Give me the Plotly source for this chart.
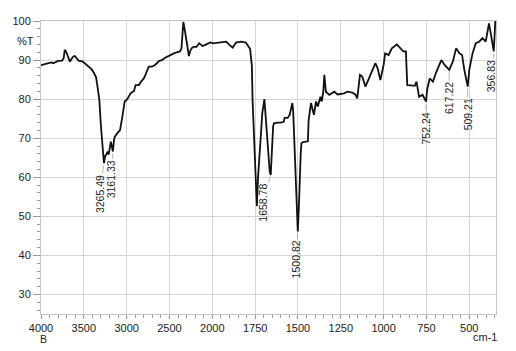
import numpy as np
import plotly.graph_objects as go

# ---- data (wavenumber cm-1, %T) ----
wavenumber = [4000, 3950, 3916, 3880, 3858, 3830, 3800, 3754, 3735, 3723, 3708, 3692, 3662, 3640,
              3623, 3605, 3585, 3561, 3512, 3490, 3454, 3430, 3408, 3385, 3357, 3339, 3319, 3300,
              3281, 3265, 3250, 3240, 3223, 3210, 3185, 3161, 3148, 3138, 3108, 3077, 3050, 3023,
              2993, 2954, 2930, 2915, 2896, 2858, 2831, 2800, 2781, 2760, 2742, 2704, 2665, 2620,
              2589, 2550, 2492, 2450, 2415, 2377, 2360, 2345, 2338, 2320, 2300, 2285, 2273, 2260,
              2242, 2220, 2185, 2170, 2154, 2130, 2115, 2081, 2050, 2023, 1996, 1957, 1919, 1900,
              1881, 1862, 1846, 1833, 1804, 1788, 1779, 1775, 1769, 1765, 1759, 1750, 1740, 1733,
              1722, 1708, 1696, 1688, 1678, 1665, 1659, 1654, 1650, 1645, 1640, 1620, 1600, 1583,
              1578, 1560, 1548, 1540, 1533, 1528, 1520, 1510, 1501, 1495, 1490, 1484, 1480, 1470,
              1455, 1442, 1438, 1432, 1424, 1407, 1394, 1384, 1369, 1361, 1352, 1346, 1340, 1337,
              1317, 1288, 1269, 1231, 1211, 1183, 1165, 1154, 1138, 1125, 1106, 1087, 1067, 1048,
              1035, 1019, 1000, 991, 971, 952, 923, 904, 885, 870, 865, 862, 840, 818, 808, 793,
              773, 752, 746, 731, 712, 692, 663, 644, 617, 596, 577, 557, 542, 529, 509, 500, 481,
              462, 442, 423, 404, 385, 375, 357, 348]
transmittance = [88.7, 89.0, 89.2, 89.4, 89.2, 89.6, 89.8, 89.85, 90.5, 92.6, 92.2, 91.3, 89.6, 90.4,
                 90.9, 91.05, 90.5, 89.85, 89.6, 89.2, 88.3, 88.0, 87.6, 86.8, 85.6, 83.0, 79.8, 73.0,
                 67.9, 63.6, 65.5, 65.7, 66.6, 65.8, 69.1, 66.6, 69.5, 70.4, 71.3, 72.1, 75.5, 79.4,
                 80.0, 81.5, 81.9, 82.0, 83.6, 83.6, 84.5, 85.3, 86.2, 87.5, 88.3, 88.3, 88.8, 89.8,
                 90.0, 90.6, 91.3, 91.7, 92.0, 92.2, 93.0, 97.5, 99.8, 97.5, 95.1, 92.5, 91.0, 92.2,
                 93.0, 93.4, 93.4, 93.8, 94.3, 93.9, 93.6, 93.9, 94.2, 94.5, 94.3, 94.5, 94.7, 93.9,
                 93.2, 94.5, 94.7, 94.7, 94.5, 93.4, 92.8, 90.9, 88.5, 79.8, 72.0, 62.0, 52.6, 60.0,
                 68.0, 76.5, 80.0, 75.0, 68.0, 61.5, 60.6, 65.0, 69.6, 73.0, 73.8, 74.0, 74.0, 74.2,
                 75.2, 75.2, 76.0, 77.5, 79.0, 77.0, 68.0, 55.0, 46.1, 52.0, 60.0, 66.0, 68.7, 69.0,
                 69.1, 69.2, 74.5, 77.0, 79.0, 76.0, 79.4, 78.1, 80.6, 79.4, 82.0, 86.2, 83.0, 81.9,
                 81.1, 81.9, 81.2, 81.5, 81.9, 81.7, 81.2, 80.2, 86.2, 85.8, 83.2, 85.3, 87.0, 89.2,
                 87.9, 84.9, 88.75, 91.7, 91.3, 93.0, 94.0, 93.0, 92.2, 92.2, 88.0, 83.6, 83.5, 83.4, 84.5, 80.6,
                 81.1, 79.4, 82.4, 85.3, 84.5, 87.0, 90.0, 88.75, 87.5, 89.6, 93.0, 91.7, 91.3, 87.5, 83.2, 87.5, 91.7,
                 94.3, 94.7, 95.6, 94.7, 99.4, 96.9, 92.2, 100.0]

tick_wavenumbers = [4000, 3500, 3000, 2500, 2000, 1750, 1500, 1250, 1000, 750, 500]
y_ticks = [30, 40, 50, 60, 70, 80, 90, 100]

peak_labels = ["3265.49", "3161.33", "1658.78", "1500.82", "752.24", "617.22", "509.21", "356.83"]
peak_wn = [3265.49, 3161.33, 1658.78, 1500.82, 752.24, 617.22, 509.21, 356.83]
peak_T = [63.6, 66.6, 60.6, 46.1, 79.4, 87.5, 83.2, 92.2]


def to_u(w):
    """Instrument axis: 4000-2000 compressed, below 2000 expanded x2."""
    w = np.asarray(w, dtype=float)
    return np.where(w >= 2000, 4000 - w, 2000 + 2 * (2000 - w))


fig = go.Figure()
fig.add_trace(go.Scatter(x=to_u(wavenumber), y=transmittance, mode="lines",
                         line=dict(color="#111111", width=1.8), showlegend=False))

# label layout: (xshift of text, yoffset of text centre) in px
label_offsets = [(-4, 31), (-1, 28), (-8, 28), (-2, 28), (0, 27), (0, 28), (0, 28), (-2, 25)]
for txt, w, t, (ax, ay) in zip(peak_labels, peak_wn, peak_T, label_offsets):
    fig.add_annotation(x=float(to_u([w])[0]), y=t, text=txt, textangle=-90,
                       showarrow=True, arrowhead=0, arrowwidth=0.6, arrowcolor="#888888",
                       ax=ax, ay=ay, standoff=2,
                       font=dict(family="Liberation Sans, Arial", size=10.5, color="#222222"))

axis_font = dict(family="Liberation Sans, Arial", size=11, color="#222222")
small_font = dict(family="Liberation Sans, Arial", size=10.5, color="#222222")
fig.add_annotation(xref="paper", yref="paper", x=-0.035, y=0.932, text="%T", showarrow=False,
                   font=axis_font, xanchor="center", yanchor="middle")
fig.add_annotation(xref="paper", yref="paper", x=0.0065, y=-0.086, text="B", showarrow=False,
                   font=small_font, xanchor="center", yanchor="middle")
fig.add_annotation(xref="paper", yref="paper", x=0.975, y=-0.08, text="cm-1", showarrow=False,
                   font=axis_font, xanchor="center", yanchor="middle")

fig.update_xaxes(range=[0, 5312], tickvals=list(to_u(tick_wavenumbers)),
                 ticktext=[str(v) for v in tick_wavenumbers],
                 showgrid=True, gridcolor="#d6d6d6", gridwidth=1,
                 showline=True, linecolor="#c4c4c4", linewidth=1, mirror=True,
                 ticks="outside", ticklen=4, tickcolor="#999999",
                 minor=dict(tickvals=list(range(0, 5312, 100)), ticks="outside", ticklen=3,
                            tickcolor="#999999", showgrid=False),
                 tickfont=axis_font, zeroline=False)
fig.update_yaxes(range=[25, 100], tickvals=y_ticks,
                 showgrid=True, gridcolor="#d6d6d6", gridwidth=1,
                 showline=True, linecolor="#c4c4c4", linewidth=1, mirror=True,
                 ticks="outside", ticklen=7, tickcolor="#999999",
                 minor=dict(tickvals=list(range(26, 100, 2)), ticks="outside", ticklen=3,
                            tickcolor="#999999", showgrid=False),
                 tickfont=axis_font, zeroline=False)

fig.update_layout(width=516, height=351, margin=dict(l=36, r=20, t=21, b=37),
                  plot_bgcolor="white", paper_bgcolor="white")

fig.write_html("out.html")
